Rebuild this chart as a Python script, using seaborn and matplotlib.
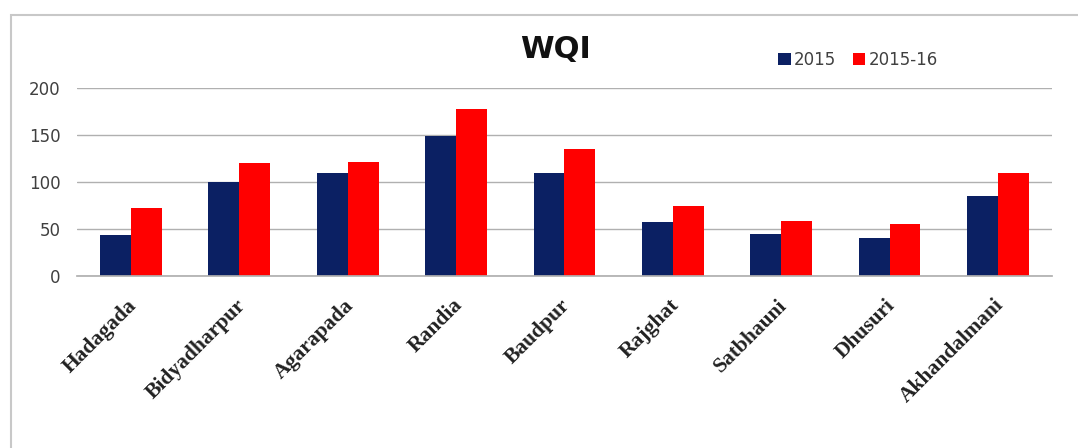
import matplotlib
matplotlib.use("Agg")
import matplotlib.pyplot as plt
import seaborn as sns
import pandas as pd
from matplotlib.patches import Rectangle
from matplotlib.transforms import ScaledTranslation

sites = ["Hadagada", "Bidyadharpur", "Agarapada", "Randia", "Baudpur",
         "Rajghat", "Satbhauni", "Dhusuri", "Akhandalmani"]
wqi_2015 = [44, 100, 109, 149, 109, 57, 45, 40, 85]
wqi_2015_16 = [72, 120, 121, 177, 135, 74, 58, 55, 109]
series = ["2015", "2015-16"]
colors = ["#0b2063", "#ff0000"]
yticks = [0, 50, 100, 150, 200]

df = pd.DataFrame({
    "site": sites * 2,
    "WQI": wqi_2015 + wqi_2015_16,
    "period": [series[0]] * len(sites) + [series[1]] * len(sites),
})

sns.set_theme(style="white")
fig = plt.figure(figsize=(10.78, 4.48), dpi=100)
ax = fig.add_axes([0.0714, 0.384, 0.9045, 0.420])

sns.barplot(data=df, x="site", y="WQI", hue="period", palette=colors,
            width=0.572, saturation=1, linewidth=0, ax=ax, legend=True)

ax.set_ylim(0, 200)
ax.set_yticks(yticks)
ax.yaxis.grid(True, color="#b0b0b0", linewidth=1.0)
ax.set_axisbelow(True)
for s in ["top", "right", "left"]:
    ax.spines[s].set_visible(False)
ax.spines["bottom"].set_color("#b0b0b0")
ax.set_xlabel("")
ax.set_ylabel("")
ax.tick_params(axis="y", labelsize=12, labelcolor="#404040", length=0, pad=12)
ax.tick_params(axis="x", length=0, pad=19)
offset = ScaledTranslation(0.03, 0, fig.dpi_scale_trans)
for lab in ax.get_xticklabels():
    lab.set_rotation(45)
    lab.set_ha("right")
    lab.set_va("center")
    lab.set_rotation_mode("anchor")
    lab.set_fontfamily("Liberation Serif")
    lab.set_fontweight("bold")
    lab.set_fontsize(15.5)
    lab.set_color("#222222")
    lab.set_transform(lab.get_transform() + offset)
ax.set_xlim(-0.5, len(sites) - 0.5)

handles, labels = ax.get_legend_handles_labels()
ax.legend_.remove()
fig.legend(handles, labels, loc="center left", bbox_to_anchor=(0.708, 0.866),
           ncol=2, frameon=False, fontsize=12, handlelength=0.75, handleheight=0.75,
           handletextpad=0.2, columnspacing=1.0, labelcolor="#404040")

fig.text(0.515, 0.89, "WQI", ha="center", va="center", fontsize=22,
         fontweight="bold", color="#111111")

fig.patches.append(Rectangle((11 / 1078, -0.2), 1.2, 1.2 - 15 / 448,
                             transform=fig.transFigure,
                             fill=False, edgecolor="#c8c8c8", linewidth=1.5))

fig.savefig("out.png", dpi=100, facecolor="white")
